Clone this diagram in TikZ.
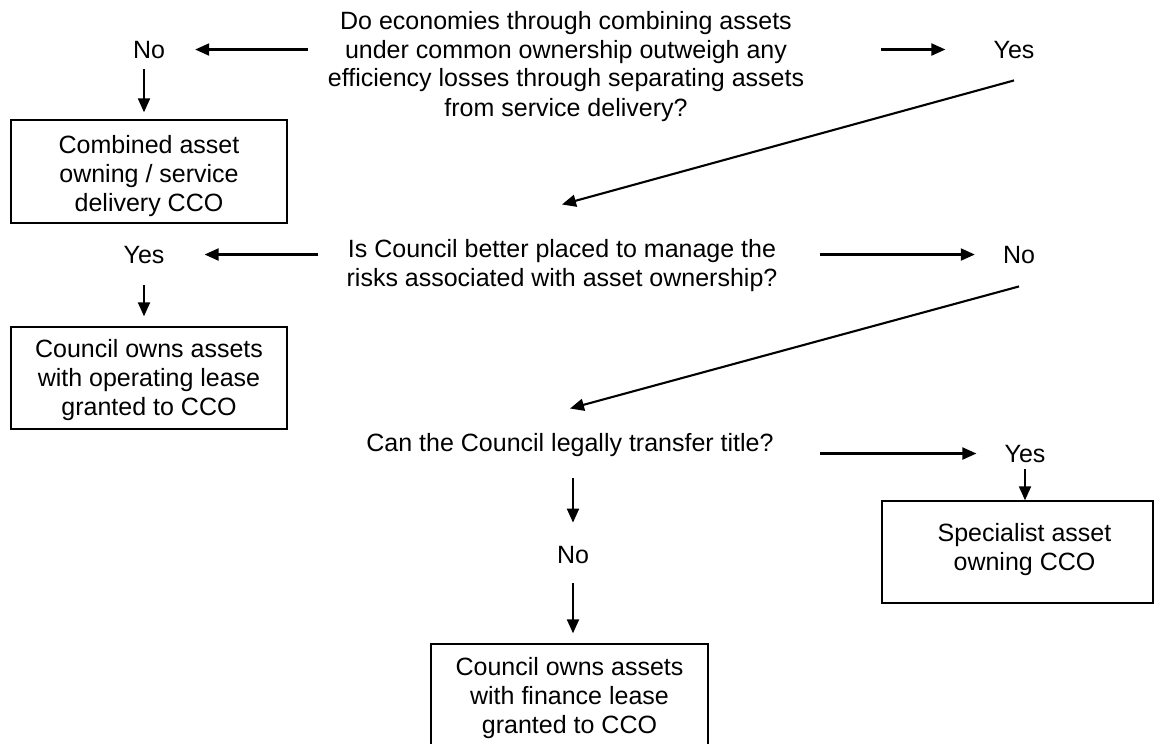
\documentclass[tikz,border=0pt]{standalone}
\usepackage{fontspec}
\setmainfont{Liberation Sans}
\usetikzlibrary{arrows.meta}
\newcommand\mlines[1]{\begin{tabular}[t]{@{}c@{}}#1\end{tabular}}
\begin{document}
\begin{tikzpicture}[x=1pt,y=-1pt,
  txt/.style={font=\fontsize{25}{29}\selectfont, inner sep=0pt, anchor=base},
  box/.style={txt, draw, line width=1.4pt, inner xsep=0pt},
  arr/.style={line width=2.1pt, -{Triangle[length=14pt,width=12pt]}}]
\useasboundingbox (0,0) rectangle (1154,744);
\clip (0,0) rectangle (1154,744);
% nodes
\node[txt] (q1) at (566,29) {\mlines{Do economies through combining assets\\under common ownership outweigh any\\efficiency losses through separating assets\\from service delivery?}};
\node[txt] (no1) at (149,58) {No};
\node[txt] (yes1) at (1014,58) {Yes};
\node[box, minimum width=276pt, text height=33pt, text depth=70pt] (b1) at (149,153) {\mlines{Combined asset\\owning / service\\delivery CCO}};
\node[txt] (q2) at (562,257) {\mlines{Is Council better placed to manage the\\risks associated with asset ownership?}};
\node[txt] (yes2) at (144,263) {Yes};
\node[txt] (no2) at (1019,263) {No};
\node[box, minimum width=276pt, text height=30pt, text depth=72pt] (b2) at (149,357) {\mlines{Council owns assets\\with operating lease\\granted to CCO}};
\node[txt] (q3) at (570,451) {\mlines{Can the Council legally transfer title?}};
\node[txt] (yes3) at (1025,462) {Yes};
\node[box, minimum width=271pt, text height=40pt, text depth=62pt] (b3) at (1017.5,541) {\hspace{14pt}\mlines{Specialist asset\\owning CCO}};
\node[txt] (no3) at (573,563) {No};
\node[box, minimum width=277pt, text height=31pt, text depth=72pt] (b4) at (569.5,675) {\mlines{Council owns assets\\with finance lease\\granted to CCO}};
% connectors
\draw[arr, shorten <=20pt, shorten >=30pt] (q1.west |- no1.center) -- (no1.east);
\draw[arr, shorten <=77pt, shorten >=48pt] (q1.east |- yes1.center) -- (yes1.west);
\draw[arr, shorten <=11pt, shorten >=7pt] ([xshift=-5pt]no1.south) -- ([xshift=-5pt]no1.south |- b1.north);
\draw[arr] ([yshift=-22pt]yes1.south) -- ([yshift=32pt]q2.north);
\draw[arr, shorten <=28pt, shorten >=40pt] (q2.west |- yes2.center) -- (yes2.east);
\draw[arr, shorten <=42pt, shorten >=28pt] (q2.east |- no2.center) -- (no2.west);
\draw[arr, shorten <=22pt, shorten >=10pt] (yes2.south) -- (yes2.south |- b2.north);
\draw[arr] ([yshift=-23pt]no2.south) -- ([yshift=22pt]q3.north);
\draw[arr, shorten <=46pt, shorten >=28pt] (q3.east |- yes3.center) -- (yes3.west);
\draw[arr, shorten <=7pt] (yes3.south) -- (yes3.south |- b3.north);
\draw[arr, shorten <=18pt, shorten >=23pt] (q3.south -| no3.north) -- (no3.north);
\draw[arr, shorten <=20pt, shorten >=10pt] (no3.south) -- (no3.south |- b4.north);
\end{tikzpicture}
\end{document}
